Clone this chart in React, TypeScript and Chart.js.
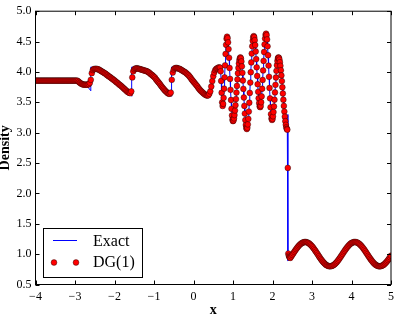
import React, { useEffect, useRef } from 'react';
import { Chart, registerables } from 'chart.js';

Chart.register(...registerables);

const FONT = "'Liberation Serif', 'DejaVu Serif', serif";

const X_TICKS = [-4, -3, -2, -1, 0, 1, 2, 3, 4, 5];
const Y_TICKS = [0.5, 1.0, 1.5, 2.0, 2.5, 3.0, 3.5, 4.0, 4.5, 5.0];

// DG(1) cell values, left smooth part: x from -4 step 0.025
const LEFT_X0 = -4;
const LEFT_DX = 0.025;
const LEFT_Y = [
  3.857, 3.857, 3.857, 3.857, 3.857, 3.857, 3.857, 3.857, 3.857, 3.857,
  3.857, 3.857, 3.857, 3.857, 3.857, 3.857, 3.857, 3.857, 3.857, 3.857,
  3.857, 3.857, 3.857, 3.857, 3.857, 3.857, 3.857, 3.857, 3.857, 3.857,
  3.857, 3.857, 3.857, 3.857, 3.857, 3.857, 3.857, 3.857, 3.857, 3.857,
  3.857, 3.857, 3.857, 3.85, 3.835, 3.82, 3.81, 3.8, 3.795, 3.79,
  3.79, 3.79, 3.79, 3.79, 3.8, 3.82, 3.87, 3.98, 4.03, 4.045,
  4.05, 4.05, 4.05, 4.045, 4.04, 4.03, 4.02, 4.01, 4.0, 3.99,
  3.98, 3.97, 3.955, 3.945, 3.93, 3.92, 3.91, 3.895, 3.885, 3.87,
  3.86, 3.845, 3.83, 3.82, 3.805, 3.79, 3.78, 3.765, 3.75, 3.735,
  3.72, 3.705, 3.69, 3.675, 3.665, 3.655, 3.65, 3.68, 3.91, 4.01,
  4.04, 4.055, 4.06, 4.06, 4.055, 4.05, 4.045, 4.04, 4.035, 4.03,
  4.025, 4.02, 4.015, 4.01, 4.0, 3.99, 3.975, 3.96, 3.95, 3.935,
  3.92, 3.905, 3.88, 3.86, 3.84, 3.82, 3.8, 3.775, 3.755, 3.735,
  3.715, 3.695, 3.68, 3.665, 3.65, 3.64, 3.64, 3.66, 3.87, 3.99,
  4.04, 4.06, 4.065, 4.065, 4.06, 4.055, 4.05, 4.04, 4.03, 4.02,
  4.01, 4.0, 3.99, 3.975, 3.96, 3.945, 3.925, 3.905, 3.88, 3.86,
  3.84, 3.82, 3.8, 3.78, 3.76, 3.735, 3.715, 3.695, 3.68, 3.665,
  3.65, 3.635, 3.625, 3.615, 3.61, 3.615, 3.64, 3.68, 3.76, 3.85,
  3.93, 3.99, 4.03, 4.05, 4.06, 4.07, 4.075, 4.07,
];

// DG(1) values in the oscillating region: x from 0.6875 step 0.0125
const OSC_X0 = 0.6875;
const OSC_DX = 0.0125;
const OSC_Y = [
  4.01, 3.852, 3.658, 3.5, 3.44,
  3.474, 3.573, 3.725, 3.911, 4.109, 4.295, 4.447, 4.546, 4.58,
  4.556, 4.487, 4.377, 4.233, 4.065, 3.885, 3.705, 3.538, 3.393, 3.283, 3.214, 3.19,
  3.202, 3.235, 3.29, 3.364, 3.453, 3.553, 3.66, 3.77, 3.877, 3.978, 4.066, 4.14, 4.195, 4.228, 4.24,
  4.223, 4.173, 4.092, 3.985, 3.859, 3.721, 3.579, 3.441, 3.315, 3.208, 3.128, 3.077, 3.06,
  3.079, 3.136, 3.227, 3.348, 3.493, 3.655, 3.825, 3.995, 4.157, 4.302, 4.423, 4.514, 4.571, 4.59,
  4.573, 4.523, 4.443, 4.337, 4.212, 4.076, 3.934, 3.798, 3.673, 3.567, 3.487, 3.437, 3.42,
  3.441, 3.501, 3.597, 3.723, 3.868, 4.025, 4.182, 4.328, 4.453, 4.549, 4.609, 4.63,
  4.606, 4.535, 4.422, 4.275, 4.104, 3.92, 3.736, 3.565, 3.418, 3.305, 3.234, 3.21,
  3.225, 3.269, 3.339, 3.432, 3.542, 3.663, 3.787, 3.908, 4.018, 4.111, 4.181, 4.225, 4.24,
  4.231, 4.204, 4.16, 4.101, 4.027, 3.943, 3.849, 3.748, 3.645, 3.542, 3.441, 3.348, 3.263, 3.189, 3.13, 3.086, 3.061, 3.05,
  2.42, 1.01, 0.975, 0.955, 0.945,
];

// Post-shock region: x from 2.45 step 0.025
const POST_X0 = 2.45;
const POST_DX = 0.025;
const POST_Y = [
  0.938, 0.962, 0.987, 1.012, 1.037, 1.061, 1.084, 1.106, 1.126, 1.145,
  1.161, 1.174, 1.185, 1.193, 1.198, 1.2, 1.199, 1.194, 1.187, 1.177,
  1.164, 1.148, 1.13, 1.11, 1.088, 1.065, 1.041, 1.017, 0.992, 0.967,
  0.942, 0.919, 0.897, 0.876, 0.858, 0.841, 0.827, 0.816, 0.808, 0.802,
  0.8, 0.801, 0.805, 0.812, 0.822, 0.834, 0.85, 0.867, 0.887, 0.909,
  0.932, 0.956, 0.98, 1.005, 1.03, 1.054, 1.078, 1.1, 1.121, 1.14,
  1.157, 1.171, 1.183, 1.191, 1.197, 1.2, 1.199, 1.196, 1.189, 1.18,
  1.167, 1.152, 1.135, 1.116, 1.094, 1.072, 1.048, 1.023, 0.998, 0.973,
  0.949, 0.925, 0.903, 0.882, 0.862, 0.845, 0.831, 0.819, 0.81, 0.803,
  0.8, 0.8, 0.804, 0.81, 0.819, 0.831, 0.846, 0.863, 0.882, 0.903,
  0.925, 0.949, 0.974,
];

// Exact solution where it departs from DG (sharp jumps)
const EXACT_LEFT_X = [
  -4, -2.9, -2.8, -2.72, -2.66, -2.6, -2.6, -2.55, -2.5, -2.4, -2.3, -2.2, -2.1, -2.0,
  -1.9, -1.8, -1.7, -1.65, -1.6, -1.565, -1.565, -1.5, -1.4, -1.3, -1.2, -1.1, -1.0,
  -0.9, -0.8, -0.7, -0.6, -0.555, -0.555, -0.5, -0.45, -0.4,
];
const EXACT_LEFT_Y = [
  3.857, 3.857, 3.83, 3.79, 3.74, 3.69, 4.08, 4.075, 4.065, 4.045, 4.01, 3.96, 3.91, 3.86,
  3.805, 3.75, 3.69, 3.66, 3.63, 3.6, 4.08, 4.075, 4.06, 4.04, 4.02, 3.98, 3.92,
  3.84, 3.755, 3.68, 3.63, 3.6, 4.08, 4.075, 4.07, 4.06,
];
const EXACT_SHOCK_X = [2.39, 2.39, 2.425];
const EXACT_SHOCK_Y = [3.3, 0.893, 0.915];

type P = { x: number; y: number };
const grid = (x0: number, dx: number, ys: number[]): P[] =>
  ys.map((y, i) => ({ x: +(x0 + i * dx).toFixed(5), y }));
const pairs = (xs: number[], ys: number[]): P[] => xs.map((x, i) => ({ x, y: ys[i] }));

const leftPts = grid(LEFT_X0, LEFT_DX, LEFT_Y);
const oscPts = grid(OSC_X0, OSC_DX, OSC_Y);
const postPts = grid(POST_X0, POST_DX, POST_Y);

const DG_POINTS: P[] = [...leftPts, ...oscPts, ...postPts];
const EXACT_POINTS: P[] = [
  ...pairs(EXACT_LEFT_X, EXACT_LEFT_Y),
  ...leftPts.filter((p) => p.x > -0.4 + 1e-9),
  ...oscPts.filter((p) => p.x <= 2.375 + 1e-9),
  ...pairs(EXACT_SHOCK_X, EXACT_SHOCK_Y),
  ...postPts,
];

const fmtMinus = (v: number) => (v < 0 ? '\u2212' + Math.abs(v) : String(v));

const framePlugin = {
  id: 'frameTicks',
  afterDatasetsDraw(chart: any) {
    const { ctx, chartArea } = chart;
    const { left, right, top, bottom } = chartArea;
    const xs = chart.scales.x;
    const ys = chart.scales.y;
    ctx.save();
    ctx.strokeStyle = '#000';
    ctx.lineWidth = 1;
    const L = 4;
    ctx.beginPath();
    X_TICKS.forEach((v) => {
      const px = Math.round(xs.getPixelForValue(v)) + 0.5;
      ctx.moveTo(px, bottom);
      ctx.lineTo(px, bottom - L);
      ctx.moveTo(px, top);
      ctx.lineTo(px, top + L);
    });
    Y_TICKS.forEach((v) => {
      const py = Math.round(ys.getPixelForValue(v)) + 0.5;
      ctx.moveTo(left, py);
      ctx.lineTo(left + L, py);
      ctx.moveTo(right, py);
      ctx.lineTo(right - L, py);
    });
    ctx.stroke();
    ctx.strokeRect(left, top, right - left, bottom - top);
    ctx.restore();
  },
  afterDraw(chart: any) {
    const { ctx } = chart;
    ctx.save();
    // legend box
    ctx.fillStyle = '#fff';
    ctx.fillRect(43.5, 228.5, 99, 49);
    ctx.strokeStyle = '#000';
    ctx.lineWidth = 1;
    ctx.strokeRect(43.5, 228.5, 99, 49);
    // Exact line sample
    ctx.strokeStyle = '#0000ff';
    ctx.beginPath();
    ctx.moveTo(53, 240.5);
    ctx.lineTo(77, 240.5);
    ctx.stroke();
    // DG markers
    [54, 76].forEach((cx) => {
      ctx.beginPath();
      ctx.arc(cx, 262.5, 2.9, 0, Math.PI * 2);
      ctx.fillStyle = '#ff0000';
      ctx.fill();
      ctx.lineWidth = 0.4;
      ctx.strokeStyle = '#000';
      ctx.stroke();
    });
    ctx.fillStyle = '#000';
    ctx.font = `16px ${FONT}`;
    ctx.textBaseline = 'alphabetic';
    ctx.textAlign = 'left';
    ctx.fillText('Exact', 93, 246);
    ctx.fillText('DG(1)', 93, 267);
    ctx.restore();
  },
};

export default function App() {
  const ref = useRef<HTMLCanvasElement | null>(null);
  useEffect(() => {
    document.body.style.margin = '0';
    const canvas = ref.current;
    if (!canvas) return;
    const chart = new Chart(canvas, {
      type: 'line',
      data: {
        datasets: [
          {
            label: 'DG(1)',
            data: DG_POINTS,
            showLine: false,
            pointRadius: 2.9,
            pointBackgroundColor: '#ff0000',
            pointBorderColor: '#000',
            pointBorderWidth: 0.4,
            order: 0,
          },
          {
            label: 'Exact',
            data: EXACT_POINTS,
            borderColor: '#0000ff',
            borderWidth: 1,
            pointRadius: 0,
            tension: 0,
            fill: false,
            order: 1,
          },
        ],
      },
      options: {
        animation: false,
        responsive: false,
        devicePixelRatio: 1,
        events: [],
        layout: { padding: { top: 5.5, right: 3.5, left: 0, bottom: 0 } },
        plugins: { legend: { display: false }, tooltip: { enabled: false } },
        scales: {
          x: {
            type: 'linear',
            min: -4,
            max: 5,
            grid: { display: false, drawTicks: false },
            border: { display: false },
            ticks: {
              stepSize: 1,
              autoSkip: false,
              maxRotation: 0,
              padding: 5,
              color: '#000',
              font: { family: FONT, size: 12 },
              callback: (v: any) => fmtMinus(Number(v)),
            },
            title: {
              display: true,
              text: 'x',
              color: '#000',
              font: { family: FONT, size: 14, weight: 'bold' },
              padding: { top: 0, bottom: -5 },
            },
            afterFit: (s: any) => {
              s.height = 29.5;
            },
          },
          y: {
            type: 'linear',
            min: 0.5,
            max: 5,
            grid: { display: false, drawTicks: false },
            border: { display: false },
            ticks: {
              stepSize: 0.5,
              autoSkip: false,
              padding: 4,
              color: '#000',
              font: { family: FONT, size: 12 },
              callback: (v: any) => Number(v).toFixed(1),
            },
            title: {
              display: true,
              text: 'Density',
              color: '#000',
              font: { family: FONT, size: 14, weight: 'bold' },
              padding: { top: -3, bottom: 0 },
            },
            afterFit: (s: any) => {
              s.width = 35.5;
            },
          },
        },
      },
      plugins: [framePlugin],
    } as any);
    return () => chart.destroy();
  }, []);
  return (
    <div style={{ position: 'fixed', left: 0, top: 0, width: 399, height: 314, background: '#fff' }}>
      <canvas ref={ref} width={399} height={314} style={{ display: 'block' }} />
    </div>
  );
}
